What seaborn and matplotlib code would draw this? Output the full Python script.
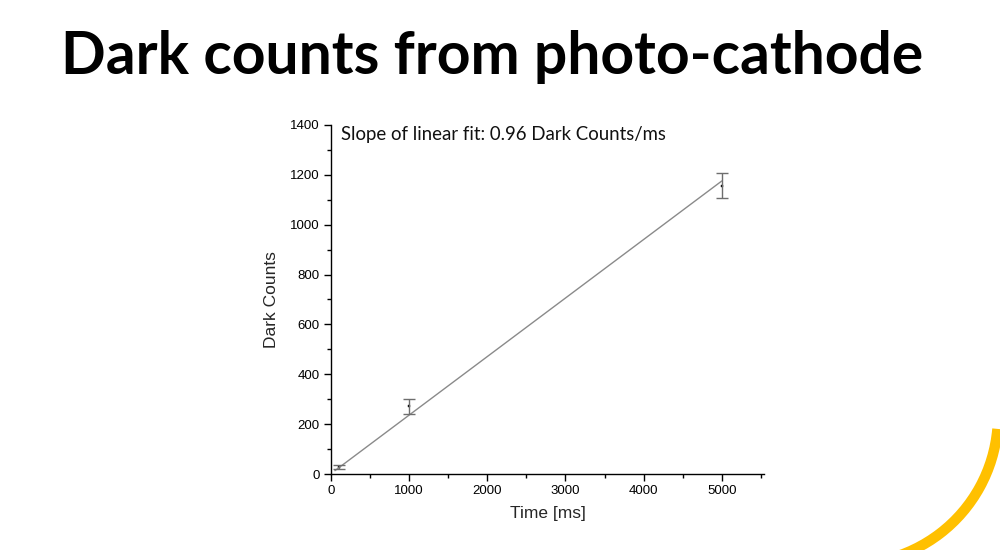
import numpy as np
import pandas as pd
import matplotlib
matplotlib.use("Agg")
import matplotlib.pyplot as plt
from matplotlib.patches import Arc
from matplotlib.ticker import MultipleLocator
import seaborn as sns

# ---- data ----
time_ms = [100, 1000, 5000]
dark_counts = [28, 271, 1155]
count_err = [9, 30, 50]
fit_x = [50, 5000]
fit_intercept = 2.0
fit_slope = 0.2346
title = "Dark counts from photo-cathode"
annotation = "Slope of linear fit: 0.96 Dark Counts/ms"
x_ticks = [0, 1000, 2000, 3000, 4000, 5000]
y_ticks = [0, 200, 400, 600, 800, 1000, 1200, 1400]

sns.set_style("ticks")
plt.rcParams['font.family'] = ['Liberation Sans', 'DejaVu Sans']

fig = plt.figure(figsize=(10, 5.5), dpi=100)
ax = fig.add_axes([0.331, 0.138, 0.764 - 0.331, 0.773 - 0.138])

df_pts = pd.DataFrame({"Time [ms]": time_ms, "Dark Counts": dark_counts})
fx = np.array(fit_x, dtype=float)
df_fit = pd.DataFrame({"Time [ms]": fx, "Dark Counts": fit_intercept + fit_slope * fx})

sns.lineplot(data=df_fit, x="Time [ms]", y="Dark Counts", ax=ax,
             color="#8a8a8a", lw=1.0)
ax.errorbar(time_ms, dark_counts, yerr=count_err, fmt="none",
            ecolor="#6e6e6e", elinewidth=1.0, capsize=4, capthick=1.0)
sns.scatterplot(data=df_pts, x="Time [ms]", y="Dark Counts", ax=ax,
                marker="s", s=3, color="black", edgecolor="black", linewidth=0.3)

ax.set_xlim(0, 5540)
ax.set_ylim(0, 1400)
ax.set_xticks(x_ticks)
ax.set_yticks(y_ticks)
ax.xaxis.set_minor_locator(MultipleLocator(500))
ax.yaxis.set_minor_locator(MultipleLocator(100))
ax.tick_params(which="major", direction="out", length=5, width=1, colors="black",
               labelsize=9.5, pad=3)
ax.tick_params(which="minor", direction="out", length=3, width=1, colors="black")
for s in ["top", "right"]:
    ax.spines[s].set_visible(False)
for s in ["left", "bottom"]:
    ax.spines[s].set_color("black")
    ax.spines[s].set_linewidth(1.0)
ax.set_xlabel("Time [ms]", fontsize=12.5, labelpad=6)
ax.set_ylabel("Dark Counts", fontsize=12.5, labelpad=8)

ax.text(128, 1362, annotation, ha="left", va="center", fontsize=13.4,
        family=["Lato", "DejaVu Sans"], color="#111111")

fig.text(0.492, 0.897, title, ha="center", va="center", fontsize=42.3,
         fontweight="bold", family=["Lato", "DejaVu Sans"], color="black")

# decorative yellow arc in bottom-right corner
deco = fig.add_axes([0, 0, 1, 1], zorder=-1)
deco.set_xlim(0, 1000)
deco.set_ylim(550, 0)
deco.axis("off")
deco.add_patch(Arc((850, 416), 296, 296, theta1=5, theta2=100,
                   color="#FFC000", lw=7.5))

fig.savefig("out.png", dpi=100, facecolor="white")
